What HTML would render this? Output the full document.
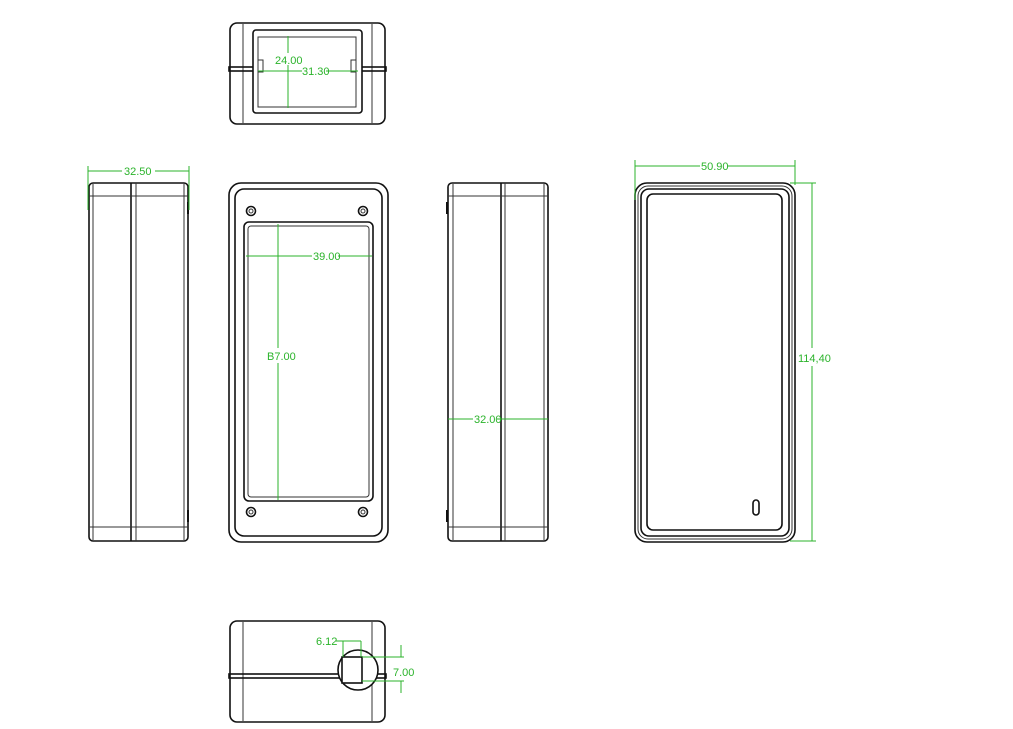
<!DOCTYPE html>
<html><head><meta charset="utf-8"><style>
html,body{margin:0;padding:0;background:#fff;width:1013px;height:729px;overflow:hidden}
svg{display:block}
.k{fill:none;stroke:#111;stroke-width:1.6}
.t{fill:none;stroke:#333;stroke-width:1}
.g{fill:none;stroke:#2bb32b;stroke-width:1}
text{font-family:"Liberation Sans Narrow","Liberation Sans",sans-serif;font-size:11px;fill:#2bb32b}
</style></head><body>
<svg width="1013" height="729" viewBox="0 0 1013 729">
<!-- Top view -->
<rect class="k" x="230" y="23" width="155" height="101" rx="7"/>
<line class="t" x1="243" y1="24" x2="243" y2="123"/><line class="t" x1="372" y1="24" x2="372" y2="123"/>
<rect class="k" x="229" y="67" width="157" height="4"/>
<rect class="k" x="253" y="30" width="109" height="83" rx="3" style="fill:#fff"/>
<rect class="t" x="258" y="37" width="98" height="70"/>
<rect class="t" x="258" y="60" width="5" height="12"/><rect class="t" x="351" y="60" width="5" height="12"/>
<line class="g" x1="288" y1="36" x2="288" y2="108"/>
<line class="g" x1="258" y1="71" x2="302" y2="71"/><line class="g" x1="326" y1="71" x2="358" y2="71"/>
<rect x="274" y="53" width="26" height="12" fill="#fff"/><text x="275" y="64">24.00</text>
<rect x="302" y="65" width="24" height="12" fill="#fff"/><text x="302" y="75">31.30</text>
<!-- Left side view -->
<rect class="k" x="89" y="183" width="99" height="358" rx="4"/>
<line class="t" x1="93" y1="184" x2="93" y2="540"/><line class="t" x1="184" y1="184" x2="184" y2="540"/>
<line class="k" x1="131" y1="183" x2="131" y2="541"/><line class="t" x1="136" y1="183" x2="136" y2="541"/>
<line class="t" x1="89" y1="196" x2="188" y2="196"/><line class="t" x1="89" y1="527" x2="188" y2="527"/>
<rect x="187" y="202" width="2" height="12" fill="#111"/><rect x="187" y="510" width="2" height="12" fill="#111"/>
<line class="g" x1="88" y1="171" x2="122" y2="171"/><line class="g" x1="155" y1="171" x2="189" y2="171"/>
<line class="g" x1="88" y1="166" x2="88" y2="210"/><line class="g" x1="189" y1="166" x2="189" y2="210"/>
<text x="124" y="175">32.50</text>
<!-- Front view -->
<rect class="k" x="229" y="183" width="159" height="359" rx="12"/>
<rect class="k" x="235" y="189" width="147" height="347" rx="9"/>
<rect class="k" x="244" y="222" width="129" height="279" rx="5"/>
<rect class="t" x="248" y="226" width="121" height="271" rx="3"/>
<g class="k"><circle cx="251" cy="211" r="4.5"/><circle cx="363" cy="211" r="4.5"/><circle cx="251" cy="512" r="4.5"/><circle cx="363" cy="512" r="4.5"/></g>
<g class="t"><circle cx="251" cy="211" r="2"/><circle cx="363" cy="211" r="2"/><circle cx="251" cy="512" r="2"/><circle cx="363" cy="512" r="2"/></g>
<line class="g" x1="278" y1="224" x2="278" y2="348"/><line class="g" x1="278" y1="363" x2="278" y2="500"/>
<line class="g" x1="246" y1="256" x2="312" y2="256"/><line class="g" x1="338" y1="256" x2="372" y2="256"/>
<text x="313" y="260">39.00</text><text x="267" y="360">B7.00</text>
<!-- Right side view -->
<rect class="k" x="448" y="183" width="100" height="358" rx="4"/>
<line class="t" x1="453" y1="184" x2="453" y2="540"/><line class="t" x1="544" y1="184" x2="544" y2="540"/>
<line class="k" x1="501" y1="183" x2="501" y2="541"/><line class="t" x1="505" y1="183" x2="505" y2="541"/>
<line class="t" x1="448" y1="196" x2="548" y2="196"/><line class="t" x1="448" y1="527" x2="548" y2="527"/>
<rect x="446" y="202" width="2" height="12" fill="#111"/><rect x="446" y="510" width="2" height="12" fill="#111"/>
<line class="g" x1="448" y1="419" x2="473" y2="419"/><line class="g" x1="497" y1="419" x2="548" y2="419"/>
<rect x="473" y="413" width="24" height="12" fill="#fff"/>
<text x="474" y="423">32.00</text>
<!-- Back view -->
<rect class="k" x="635" y="183" width="160" height="359" rx="12"/>
<rect class="t" x="638" y="186" width="154" height="353" rx="10"/>
<rect class="k" x="641" y="189" width="148" height="347" rx="8"/>
<rect class="k" x="647" y="194" width="135" height="336" rx="6"/>
<rect class="k" x="753" y="500" width="6" height="15" rx="3"/>
<line class="g" x1="635" y1="166" x2="700" y2="166"/><line class="g" x1="728" y1="166" x2="795" y2="166"/>
<line class="g" x1="635" y1="160" x2="635" y2="200"/><line class="g" x1="795" y1="160" x2="795" y2="185"/>
<text x="701" y="170">50.90</text>
<line class="g" x1="790" y1="183" x2="816" y2="183"/><line class="g" x1="790" y1="541" x2="816" y2="541"/>
<line class="g" x1="812" y1="183" x2="812" y2="348"/><line class="g" x1="812" y1="366" x2="812" y2="541"/>
<text x="798" y="362">114,40</text>
<!-- Bottom view -->
<rect class="k" x="230" y="621" width="155" height="101" rx="7"/>
<line class="t" x1="243" y1="622" x2="243" y2="721"/><line class="t" x1="372" y1="622" x2="372" y2="721"/>
<rect class="k" x="229" y="674" width="157" height="4"/>
<circle class="k" cx="358" cy="670" r="20" style="fill:#fff"/>
<rect class="k" x="342" y="657" width="20" height="26" style="fill:#fff"/>
<line class="g" x1="343" y1="641" x2="343" y2="657"/><line class="g" x1="361" y1="641" x2="361" y2="657"/>
<line class="g" x1="336" y1="641" x2="361" y2="641"/>
<line class="g" x1="362" y1="657" x2="404" y2="657"/><line class="g" x1="362" y1="681" x2="404" y2="681"/>
<line class="g" x1="401" y1="645" x2="401" y2="657"/><line class="g" x1="401" y1="681" x2="401" y2="693"/>
<text x="316" y="645">6.12</text><text x="393" y="676">7.00</text>
</svg>
</body></html>
